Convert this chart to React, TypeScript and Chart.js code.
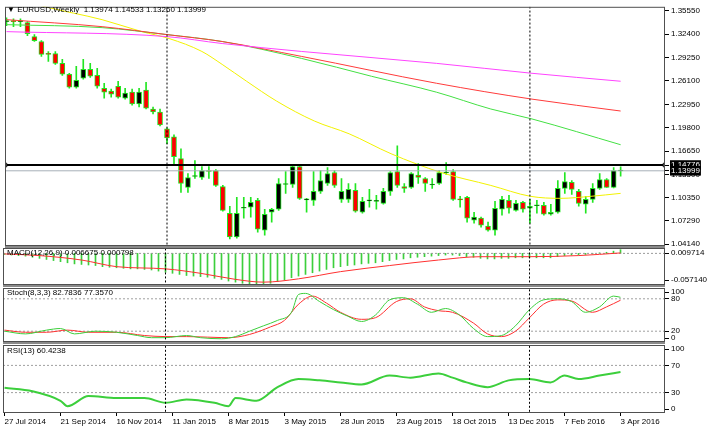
import React, { useEffect, useRef } from 'react';
import { Chart, registerables } from 'chart.js';
Chart.register(...registerables);

// ---------- data ----------
const DATE_LABELS = ['27 Jul 2014', '21 Sep 2014', '16 Nov 2014', '11 Jan 2015', '8 Mar 2015', '3 May 2015', '28 Jun 2015', '23 Aug 2015', '18 Oct 2015', '13 Dec 2015', '7 Feb 2016', '3 Apr 2016'];
const DATE_IDX = [0, 8, 16, 24, 32, 40, 48, 56, 64, 72, 80, 88];
const YEAR_SEPARATORS = [23, 75];

const OPEN = [1.3408, 1.3421, 1.3408, 1.3395, 1.3207, 1.3141, 1.2974, 1.2980, 1.2847, 1.2700, 1.2526, 1.2646, 1.2766, 1.2686, 1.2512, 1.2472, 1.2539, 1.2379, 1.2459, 1.2299, 1.2486, 1.2232, 1.2192, 1.1964, 1.1858, 1.1563, 1.1176, 1.1323, 1.1310, 1.1403, 1.1403, 1.1189, 1.0828, 1.0508, 1.0895, 1.0909, 1.1002, 1.0601, 1.0842, 1.0882, 1.1216, 1.1216, 1.1457, 1.1009, 1.1002, 1.1122, 1.1229, 1.1377, 1.1016, 1.1016, 1.1136, 1.0842, 1.0995, 1.0989, 1.0962, 1.1122, 1.1390, 1.1189, 1.1176, 1.1343, 1.1296, 1.1209, 1.1229, 1.1370, 1.1390, 1.1016, 1.1042, 1.0735, 1.0762, 1.0654, 1.0601, 1.0882, 1.1002, 1.0868, 1.0975, 1.0895, 1.0929, 1.0935, 1.0815, 1.0842, 1.1163, 1.1243, 1.1122, 1.0949, 1.1016, 1.1163, 1.1283, 1.1176, 1.13974];
const HIGH = [1.3461, 1.3448, 1.3448, 1.3408, 1.3234, 1.3154, 1.3007, 1.3007, 1.2900, 1.2713, 1.2806, 1.2900, 1.2847, 1.2780, 1.2579, 1.2499, 1.2606, 1.2512, 1.2499, 1.2512, 1.2593, 1.2259, 1.2232, 1.1978, 1.1884, 1.1697, 1.1363, 1.1537, 1.1457, 1.1457, 1.1417, 1.1203, 1.0922, 1.1042, 1.1042, 1.1042, 1.1029, 1.0882, 1.0895, 1.1296, 1.1390, 1.1470, 1.1470, 1.1029, 1.1390, 1.1403, 1.1443, 1.1403, 1.1296, 1.1229, 1.1229, 1.1042, 1.1149, 1.1069, 1.1163, 1.1390, 1.1737, 1.1229, 1.1377, 1.1497, 1.1310, 1.1296, 1.1403, 1.1510, 1.1417, 1.1056, 1.1056, 1.0842, 1.0775, 1.0708, 1.0989, 1.1056, 1.1069, 1.1002, 1.0989, 1.1016, 1.1002, 1.0975, 1.0949, 1.1269, 1.1377, 1.1269, 1.1149, 1.1056, 1.1229, 1.1363, 1.1296, 1.1443, 1.14533];
const LOW = [1.3354, 1.3341, 1.3341, 1.3221, 1.3141, 1.2940, 1.2873, 1.2833, 1.2686, 1.2512, 1.2512, 1.2633, 1.2659, 1.2512, 1.2379, 1.2392, 1.2379, 1.2365, 1.2285, 1.2259, 1.2232, 1.2165, 1.2005, 1.1764, 1.1470, 1.1109, 1.1109, 1.1296, 1.1283, 1.1296, 1.1189, 1.0855, 1.0481, 1.0494, 1.0762, 1.0775, 1.0574, 1.0534, 1.0708, 1.0868, 1.1096, 1.1176, 1.1016, 1.0842, 1.0935, 1.1096, 1.1203, 1.1176, 1.0975, 1.0975, 1.0842, 1.0828, 1.0909, 1.0882, 1.0949, 1.1069, 1.1176, 1.1109, 1.1163, 1.1229, 1.1122, 1.1163, 1.1216, 1.1350, 1.1002, 1.0909, 1.0708, 1.0694, 1.0641, 1.0588, 1.0534, 1.0802, 1.0828, 1.0855, 1.0842, 1.0694, 1.0828, 1.0802, 1.0802, 1.0828, 1.1096, 1.1082, 1.0922, 1.0828, 1.0975, 1.1149, 1.1176, 1.1169, 1.13260];
const CLOSE = [1.3421, 1.3408, 1.3421, 1.3248, 1.3154, 1.2967, 1.2967, 1.2847, 1.2700, 1.2526, 1.2619, 1.2766, 1.2673, 1.2539, 1.2459, 1.2432, 1.2392, 1.2445, 1.2299, 1.2459, 1.2245, 1.2192, 1.2018, 1.1844, 1.1590, 1.1229, 1.1310, 1.1330, 1.1403, 1.1390, 1.1203, 1.0868, 1.0508, 1.0828, 1.0902, 1.0975, 1.0614, 1.0815, 1.0882, 1.1229, 1.1223, 1.1457, 1.1029, 1.1016, 1.1122, 1.1269, 1.1363, 1.1203, 1.1122, 1.1149, 1.0855, 1.0989, 1.1002, 1.0995, 1.1122, 1.1377, 1.1203, 1.1163, 1.1363, 1.1310, 1.1229, 1.1216, 1.1377, 1.1377, 1.1016, 1.1009, 1.0762, 1.0775, 1.0668, 1.0601, 1.0895, 1.1016, 1.0895, 1.0962, 1.0882, 1.0922, 1.0935, 1.0815, 1.0842, 1.1163, 1.1256, 1.1149, 1.0962, 1.1016, 1.1163, 1.1283, 1.1176, 1.1403, 1.13999];

// moving averages (sampled at bar index positions)
const MA_YELLOW_IDX = [0, 5.6, 13.7, 19.4, 23.3, 28, 30.9, 34.4, 38.7, 44.1, 49.1, 55.1, 62.3, 69.4, 75.1, 79.4, 83.7, 88];
const MA_YELLOW = [1.3756, 1.3608, 1.3435, 1.3274, 1.3181, 1.3007, 1.2833, 1.2606, 1.2339, 1.2071, 1.1898, 1.1630, 1.1376, 1.1203, 1.1056, 1.1029, 1.1056, 1.1096];
const MA_GREEN_IDX = [0, 13.7, 23, 30.9, 42.3, 52.3, 61.6, 69.4, 75.3, 88];
const MA_GREEN = [1.3368, 1.3328, 1.3234, 1.3141, 1.2913, 1.2673, 1.2459, 1.2232, 1.2098, 1.1751];
const MA_RED_IDX = [0, 13.7, 23, 30.9, 42.3, 61.6, 75.3, 88];
const MA_RED = [1.3435, 1.3341, 1.3234, 1.3141, 1.2940, 1.2579, 1.2365, 1.2205];
const MA_MAGENTA_IDX = [0, 23, 30.9, 42.3, 61.6, 75.3, 88];
const MA_MAGENTA = [1.3274, 1.3207, 1.3114, 1.3007, 1.2847, 1.2713, 1.2606];

const HLINE_BLACK = 1.14776;
const HLINE_GRAY = 1.13999;
const PRICE_TICKS = [1.3555, 1.324, 1.2925, 1.261, 1.2295, 1.198, 1.1665, 1.135, 1.1035, 1.0729, 1.0414];
const PRICE_MIN = 1.03872;
const PRICE_MAX = 1.36085;

// MACD
const MACD_HIST = [-0.002, -0.003, -0.004, -0.005, -0.007, -0.009, -0.011, -0.013, -0.015, -0.017, -0.019, -0.020, -0.021, -0.022, -0.024, -0.025, -0.026, -0.027, -0.028, -0.028, -0.029, -0.030, -0.032, -0.034, -0.036, -0.038, -0.040, -0.041, -0.042, -0.043, -0.045, -0.047, -0.050, -0.052, -0.054, -0.055, -0.057, -0.056, -0.054, -0.051, -0.048, -0.044, -0.041, -0.038, -0.035, -0.032, -0.029, -0.026, -0.024, -0.022, -0.021, -0.019, -0.018, -0.017, -0.015, -0.013, -0.011, -0.010, -0.008, -0.007, -0.006, -0.005, -0.004, -0.003, -0.003, -0.004, -0.006, -0.007, -0.009, -0.010, -0.010, -0.009, -0.009, -0.008, -0.008, -0.008, -0.008, -0.008, -0.008, -0.006, -0.004, -0.003, -0.003, -0.002, -0.001, 0.001, 0.002, 0.004, 0.006675];
const MACD_SIG_IDX = [0, 5, 11, 16, 23, 28, 33, 37, 42, 48, 55, 62, 68, 75, 82, 88];
const MACD_SIG = [-0.001, -0.004, -0.012, -0.024, -0.028, -0.036, -0.047, -0.052, -0.046, -0.033, -0.022, -0.012, -0.006, -0.006, -0.004, 0.000798];
const MACD_MIN = -0.05714;
const MACD_MAX = 0.009714;
const MACD_LABELS = ['0.009714', '-0.057140'];

// Stochastic
const STOCH_K_IDX = [0, 3, 6, 8, 10, 13, 16, 19, 21, 23, 26, 28, 31, 33, 35, 37, 39, 41, 42, 43, 45, 47, 49, 51, 53, 55, 57, 59, 61, 63, 65, 67, 69, 71, 73, 75, 77, 79, 81, 83, 85, 87, 88];
const STOCH_K = [20, 15, 22, 25, 15, 20, 18, 12, 8, 8, 12, 8, 6, 10, 20, 30, 40, 55, 88, 90, 75, 60, 48, 38, 50, 78, 82, 70, 55, 62, 50, 25, 10, 12, 30, 60, 78, 80, 75, 55, 65, 85, 82.7836];
const STOCH_D_IDX = [0, 3, 6, 9, 12, 16, 20, 23, 26, 29, 32, 35, 38, 40, 42, 44, 46, 48, 51, 53, 56, 58, 60, 62, 64, 67, 69, 71, 73, 75, 77, 79, 81, 84, 86, 88];
const STOCH_D = [22, 18, 18, 22, 18, 18, 12, 10, 10, 9, 8, 14, 28, 40, 70, 85, 72, 55, 42, 45, 75, 80, 65, 58, 55, 35, 15, 10, 20, 45, 70, 78, 76, 55, 65, 77.357];
const STOCH_LEVELS = [80, 20];
const STOCH_LABELS = ['100', '80', '20', '0'];

// RSI
const RSI_IDX = [0, 4, 8, 9, 12, 16, 20, 23, 26, 30, 32, 33, 36, 39, 42, 45, 48, 51, 55, 58, 62, 64, 66, 69, 72, 75, 78, 80, 82, 85, 88];
const RSI = [37, 32, 18, 10, 25, 22, 22, 15, 20, 15, 10, 22, 18, 38, 50, 48, 45, 42, 55, 52, 58, 52, 45, 38, 48, 50, 45, 55, 50, 55, 60.4238];
const RSI_LEVELS = [70, 30];
const RSI_LABELS = ['100', '70', '30', '0'];

// ---------- styling / layout ----------
const W = 707;
const H = 437;
const PLOT_LEFT = 3;
const AXIS_W = 42;
const X_AXIS_H = 24;
const PX_PER_BAR = 7;
const X_MIN = -1.5 / PX_PER_BAR;
const X_MAX = X_MIN + (W - AXIS_W - PLOT_LEFT) / PX_PER_BAR;
const FONT = "'Liberation Sans', Arial, sans-serif";
const LIME = '#22e622';
const BULL = '#000000';
const BEAR = '#ff0000';

const framePlugin = {
  id: 'frame',
  afterDraw(chart: any, _args: any, opts: any) {
    const { ctx, chartArea: a } = chart;
    ctx.save();
    if (opts && opts.separator) {
      ctx.fillStyle = '#8a8a8a';
      ctx.fillRect(a.left, a.bottom - 1, a.right - a.left, 3);
    }
    ctx.strokeStyle = '#505050';
    ctx.lineWidth = 1;
    ctx.strokeRect(a.left + 0.5, a.top + 0.5, a.right - a.left - 1, a.bottom - a.top - 1);
    ctx.restore();
  },
};

function xScale(show: boolean) {
  return {
    type: 'linear',
    min: X_MIN,
    max: X_MAX,
    offset: false,
    display: show,
    grid: { display: show, drawOnChartArea: false, drawTicks: true, tickLength: 3, color: '#000' },
    border: { display: false },
    ticks: {
      autoSkip: false,
      maxRotation: 0,
      align: 'start',
      padding: 1,
      color: '#000',
      font: { family: FONT, size: 8 },
      callback: (v: any) => DATE_LABELS[DATE_IDX.indexOf(v)] ?? '',
    },
    afterBuildTicks: (s: any) => {
      s.ticks = DATE_IDX.map((v) => ({ value: v }));
    },
    afterFit: (s: any) => {
      s.height = show ? X_AXIS_H : 0;
    },
  };
}

function yScale(min: number, max: number, ticks: number[], labels: (v: number, i: number) => string, extra: any = {}) {
  return {
    position: 'right',
    min,
    max,
    grid: { drawOnChartArea: false, drawTicks: true, tickLength: 4, color: '#000', tickColor: '#000' },
    border: { display: false },
    ticks: {
      autoSkip: false,
      padding: 2,
      color: '#000',
      font: { family: FONT, size: 8 },
      callback: (v: any, i: number) => labels(v, i),
      ...extra,
    },
    afterBuildTicks: (s: any) => {
      s.ticks = ticks.map((v) => ({ value: v }));
    },
    afterFit: (s: any) => {
      s.width = AXIS_W;
    },
  };
}

function vlines(lo: number, hi: number) {
  return YEAR_SEPARATORS.map((i) => ({
    type: 'line',
    data: [{ x: i, y: lo }, { x: i, y: hi }],
    borderColor: '#000',
    borderWidth: 1,
    borderDash: [2, 2],
    pointRadius: 0,
    order: -1,
  }));
}

function hline(y: number, color: string, width: number, dash: number[] = [], extra: any = {}) {
  return {
    type: 'line',
    data: [{ x: X_MIN, y }, { x: X_MAX, y }],
    borderColor: color,
    borderWidth: width,
    borderDash: dash,
    pointRadius: 0,
    order: 0,
    ...extra,
  };
}

function lineSeries(idx: number[], vals: number[], color: string, width = 1, order = 1) {
  return {
    type: 'line',
    data: idx.map((x, k) => ({ x, y: vals[k] })),
    borderColor: color,
    borderWidth: width,
    pointRadius: 0,
    cubicInterpolationMode: 'monotone',
    order,
  };
}

function insetTicks(min: number, max: number, heightPx: number, levels: number[], insetPx: number) {
  const per = (max - min) / heightPx;
  return [max - insetPx * per, ...levels, min + insetPx * per];
}

// each panel is a full-page transparent canvas; its plot area is placed by padding
function panelPadding(top: number, bottom: number, hasXAxis = false) {
  return { left: PLOT_LEFT, right: 0, top, bottom: H - bottom - (hasXAxis ? X_AXIS_H : 0) };
}

function baseOptions(padding: any, scales: any, separator: boolean) {
  return {
    responsive: false,
    animation: false,
    devicePixelRatio: 1,
    events: [],
    layout: { padding },
    plugins: {
      legend: { display: false },
      tooltip: { enabled: false },
      title: { display: false },
      frame: { separator },
    },
    scales,
  };
}

const MAIN_BOX = { top: 5, bottom: 246 };
const MACD_BOX = { top: 248, bottom: 285 };
const STOCH_BOX = { top: 288, bottom: 342 };
const RSI_BOX = { top: 345, bottom: 413 };

function makeMain(canvas: HTMLCanvasElement) {
  const specialTicks = [HLINE_BLACK, HLINE_GRAY];
  const allTicks = [...PRICE_TICKS, ...specialTicks];
  const isSpecial = (ctx: any) => ctx.tick && specialTicks.includes(ctx.tick.value);
  return new Chart(canvas, {
    type: 'bar',
    data: {
      datasets: [
        {
          type: 'bar',
          data: OPEN.map((_, i) => ({ x: i, y: [LOW[i], HIGH[i]] })),
          backgroundColor: LIME,
          barThickness: 1,
          grouped: false,
          order: 3,
        },
        {
          type: 'bar',
          data: OPEN.map((o, i) => ({ x: i, y: [o, CLOSE[i]] })),
          backgroundColor: OPEN.map((o, i) => (CLOSE[i] >= o ? BULL : BEAR)),
          borderColor: LIME,
          borderWidth: 1,
          borderSkipped: false,
          barThickness: 5,
          minBarLength: 1,
          grouped: false,
          order: 2,
        },
        lineSeries(MA_MAGENTA_IDX, MA_MAGENTA, '#ff44ff'),
        lineSeries(MA_RED_IDX, MA_RED, '#ff3b3b'),
        lineSeries(MA_GREEN_IDX, MA_GREEN, '#44e044'),
        lineSeries(MA_YELLOW_IDX, MA_YELLOW, '#f2f200'),
        hline(HLINE_GRAY, '#a8b0b8', 1),
        hline(HLINE_BLACK, '#000', 2, [], {
          pointRadius: 2.5,
          pointStyle: 'rect',
          pointBackgroundColor: '#fff',
          pointBorderColor: '#000',
          pointBorderWidth: 1,
        }),
        ...vlines(PRICE_MIN - 1, PRICE_MAX + 1),
      ] as any,
    },
    options: baseOptions(panelPadding(MAIN_BOX.top, MAIN_BOX.bottom), {
      x: xScale(false),
      y: yScale(PRICE_MIN, PRICE_MAX, allTicks, (v) => v.toFixed(5), {
        color: (ctx: any) => (isSpecial(ctx) ? '#fff' : '#000'),
        showLabelBackdrop: (ctx: any) => isSpecial(ctx),
        backdropColor: '#000',
        backdropPadding: { top: 0, bottom: 0, left: 1, right: 1 },
      }),
    }, true) as any,
    plugins: [framePlugin],
  });
}

function makeMacd(canvas: HTMLCanvasElement) {
  const ticks = insetTicks(MACD_MIN, MACD_MAX, MACD_BOX.bottom - MACD_BOX.top, [], 5);
  return new Chart(canvas, {
    type: 'bar',
    data: {
      datasets: [
        {
          type: 'bar',
          data: MACD_HIST.map((v, i) => ({ x: i, y: v })),
          backgroundColor: '#3ccf3c',
          barThickness: 1,
          grouped: false,
          order: 3,
        },
        hline(0, '#9a9a9a', 1, [2, 2], { order: 2 }),
        lineSeries(MACD_SIG_IDX, MACD_SIG, '#ff3030', 1, 1),
        ...vlines(MACD_MIN - 1, MACD_MAX + 1),
      ] as any,
    },
    options: baseOptions(panelPadding(MACD_BOX.top, MACD_BOX.bottom), {
      x: xScale(false),
      y: yScale(MACD_MIN, MACD_MAX, ticks, (_v, i) => MACD_LABELS[i]),
    }, true) as any,
    plugins: [framePlugin],
  });
}

function makeStoch(canvas: HTMLCanvasElement) {
  const ticks = insetTicks(0, 100, STOCH_BOX.bottom - STOCH_BOX.top, STOCH_LEVELS, 4);
  return new Chart(canvas, {
    type: 'line',
    data: {
      datasets: [
        ...STOCH_LEVELS.map((l) => hline(l, '#a0a0a0', 1, [2, 2], { order: 3 })),
        lineSeries(STOCH_D_IDX, STOCH_D, '#ff3030', 1, 2),
        lineSeries(STOCH_K_IDX, STOCH_K, '#3ccf3c', 1, 1),
        ...vlines(-10, 110),
      ] as any,
    },
    options: baseOptions(panelPadding(STOCH_BOX.top, STOCH_BOX.bottom), {
      x: xScale(false),
      y: yScale(0, 100, ticks, (_v, i) => STOCH_LABELS[i]),
    }, true) as any,
    plugins: [framePlugin],
  });
}

function makeRsi(canvas: HTMLCanvasElement) {
  const ticks = insetTicks(0, 100, RSI_BOX.bottom - RSI_BOX.top, RSI_LEVELS, 4);
  return new Chart(canvas, {
    type: 'line',
    data: {
      datasets: [
        ...RSI_LEVELS.map((l) => hline(l, '#a0a0a0', 1, [2, 2], { order: 3 })),
        lineSeries(RSI_IDX, RSI, '#3ccf3c', 2, 1),
        ...vlines(-10, 110),
      ] as any,
    },
    options: baseOptions(panelPadding(RSI_BOX.top, RSI_BOX.bottom, true), {
      x: xScale(true),
      y: yScale(0, 100, ticks, (_v, i) => RSI_LABELS[i]),
    }, false) as any,
    plugins: [framePlugin],
  });
}

const PANELS = [
  { key: 'main', make: makeMain },
  { key: 'macd', make: makeMacd },
  { key: 'stoch', make: makeStoch },
  { key: 'rsi', make: makeRsi },
];

const LABELS = [
  { text: '\u25BC EURUSD,Weekly  1.13974 1.14533 1.13260 1.13999', top: 5 },
  { text: 'MACD(12,26,9) 0.006675 0.000798', top: 248 },
  { text: 'Stoch(8,3,3) 82.7836 77.3570', top: 288 },
  { text: 'RSI(13) 60.4238', top: 346 },
];

export default function App() {
  const refs = useRef<(HTMLCanvasElement | null)[]>([]);
  useEffect(() => {
    const charts = PANELS.map((p, i) => p.make(refs.current[i] as HTMLCanvasElement));
    return () => charts.forEach((c) => c.destroy());
  }, []);
  return (
    <div style={{ position: 'fixed', left: 0, top: 0, width: W, height: H, background: '#fff', overflow: 'hidden' }}>
      {PANELS.map((p, i) => (
        <canvas
          key={p.key}
          ref={(el) => { refs.current[i] = el; }}
          width={W}
          height={H}
          style={{ position: 'absolute', left: 0, top: 0, width: W, height: H }}
        />
      ))}
      {LABELS.map((l) => (
        <div
          key={l.text}
          style={{ position: 'absolute', left: 7, top: l.top, font: `8px ${FONT}`, lineHeight: '10px', color: '#000', whiteSpace: 'pre' }}
        >
          {l.text}
        </div>
      ))}
    </div>
  );
}
